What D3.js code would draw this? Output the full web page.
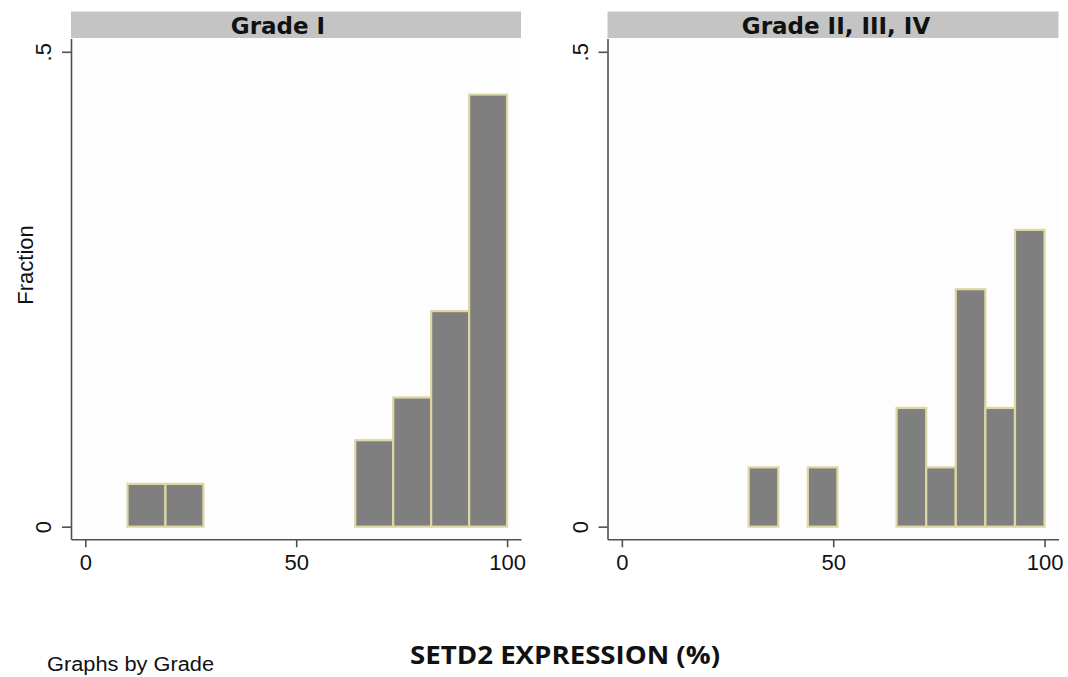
<!DOCTYPE html>
<html>
<head>
<meta charset="utf-8">
<script src="https://cdn.jsdelivr.net/npm/d3@7"></script>
<style>
  body { margin: 0; background: #fff; }
  svg { display: block; }
</style>
</head>
<body>
<div id="chart"></div>
<script>
// panel titles
var panelTitles = ["Grade I", "Grade II, III, IV"];

// histogram bin edges (SETD2 expression, %)
var binEdgesGradeI = [10, 19, 28, 37, 46, 55, 64, 73, 82, 91, 100];
var binEdgesGradeII = [30, 37, 44, 51, 58, 65, 72, 79, 86, 93, 100];

// fraction of cases in each bin
var fractionGradeI = [0.045, 0.045, 0, 0, 0, 0, 0.091, 0.136, 0.227, 0.455];
var fractionGradeII = [0.0625, 0, 0.0625, 0, 0, 0.125, 0.0625, 0.25, 0.125, 0.3125];

var xTicks = [0, 50, 100];
var yTicks = [0, 0.5];
var yTickLabels = ["0", ".5"];

var width = 1068, height = 677;
var bar_fill = "#7f7f7f";
var bar_stroke = "#ddd7a3";
var axis_color = "#505050";

var svg = d3.select("#chart").append("svg")
  .attr("width", width)
  .attr("height", height);

var panels = [
  { title: panelTitles[0], edges: binEdgesGradeI, values: fractionGradeI, left: 71, right: 521, titleX: 278 },
  { title: panelTitles[1], edges: binEdgesGradeII, values: fractionGradeII, left: 607.5, right: 1058.5, titleX: 836 }
];

var plotTop = 38.5, plotBottom = 539.3;

var y = d3.scaleLinear()
  .domain([-0.0133, 0.514])
  .range([plotBottom, plotTop]);

panels.forEach(function(p) {
  var x = d3.scaleLinear()
    .domain([-3.4, 103.3])
    .range([p.left, p.right]);

  var g = svg.append("g");

  // plot region
  g.append("rect")
    .attr("x", p.left)
    .attr("y", plotTop)
    .attr("width", p.right - p.left)
    .attr("height", plotBottom - plotTop)
    .attr("fill", "#fdfdfd");

  // title strip
  g.append("rect")
    .attr("x", p.left)
    .attr("y", 11.5)
    .attr("width", p.right - p.left)
    .attr("height", 26.5)
    .attr("fill", "#c4c4c4");

  g.append("text")
    .attr("x", p.titleX)
    .attr("y", 33.5)
    .attr("text-anchor", "middle")
    .attr("font-family", "DejaVu Sans")
    .attr("font-weight", "bold")
    .attr("font-size", 23)
    .attr("fill", "#111")
    .text(p.title);

  var bins = p.values.map(function(v, i) {
    return { x0: p.edges[i], x1: p.edges[i + 1], value: v };
  }).filter(function(d) { return d.value > 0; });

  g.selectAll("rect.bar")
    .data(bins)
    .enter()
    .append("rect")
    .attr("class", "bar")
    .attr("x", function(d) { return x(d.x0); })
    .attr("width", function(d) { return x(d.x1) - x(d.x0); })
    .attr("y", function(d) { return y(d.value); })
    .attr("height", function(d) { return y(0) - y(d.value); })
    .attr("fill", bar_fill)
    .attr("stroke", bar_stroke)
    .attr("stroke-width", 2.2);

  // x axis
  var xAxis = g.append("g")
    .attr("transform", "translate(0," + plotBottom + ")")
    .call(d3.axisBottom(x).tickValues(xTicks).tickSize(8).tickSizeOuter(0).tickPadding(8));
  xAxis.select(".domain").attr("stroke", axis_color).attr("stroke-width", 1.6);
  xAxis.selectAll(".tick line").attr("stroke", axis_color).attr("stroke-width", 1.6);
  xAxis.selectAll(".tick text")
    .attr("font-family", "Liberation Sans, Arial, sans-serif")
    .attr("font-size", 22)
    .attr("fill", "#111")
    .attr("dy", "0.68em");

  // y axis
  var yAxis = g.append("g")
    .attr("transform", "translate(" + p.left + ",0)")
    .call(d3.axisLeft(y).tickValues(yTicks).tickSize(9).tickSizeOuter(0));
  yAxis.select(".domain").attr("stroke", axis_color).attr("stroke-width", 1.6);
  yAxis.selectAll(".tick line").attr("stroke", axis_color).attr("stroke-width", 1.6);
  yAxis.selectAll(".tick text")
    .text(function(d, i) { return yTickLabels[i]; })
    .attr("transform", "rotate(-90)")
    .attr("x", 0)
    .attr("y", -20)
    .attr("dy", 0)
    .attr("text-anchor", "middle")
    .attr("font-family", "Liberation Sans, Arial, sans-serif")
    .attr("font-size", 22)
    .attr("fill", "#111");
});

// y axis title
svg.append("text")
  .attr("transform", "translate(33,265) rotate(-90)")
  .attr("text-anchor", "middle")
  .attr("font-family", "Liberation Sans, Arial, sans-serif")
  .attr("font-size", 22)
  .attr("fill", "#111")
  .text("Fraction");

// x axis title
svg.append("text")
  .attr("x", 565)
  .attr("y", 664)
  .attr("text-anchor", "middle")
  .attr("font-family", "Open Sans, sans-serif")
  .attr("font-weight", "bold")
  .attr("font-size", 25)
  .attr("textLength", 310)
  .attr("lengthAdjust", "spacingAndGlyphs")
  .attr("fill", "#111")
  .text("SETD2 EXPRESSION (%)");

svg.append("text")
  .attr("x", 47)
  .attr("y", 671)
  .attr("font-family", "Liberation Sans, Arial, sans-serif")
  .attr("font-size", 20)
  .attr("textLength", 167)
  .attr("lengthAdjust", "spacingAndGlyphs")
  .attr("fill", "#111")
  .text("Graphs by Grade");
</script>
</body>
</html>
